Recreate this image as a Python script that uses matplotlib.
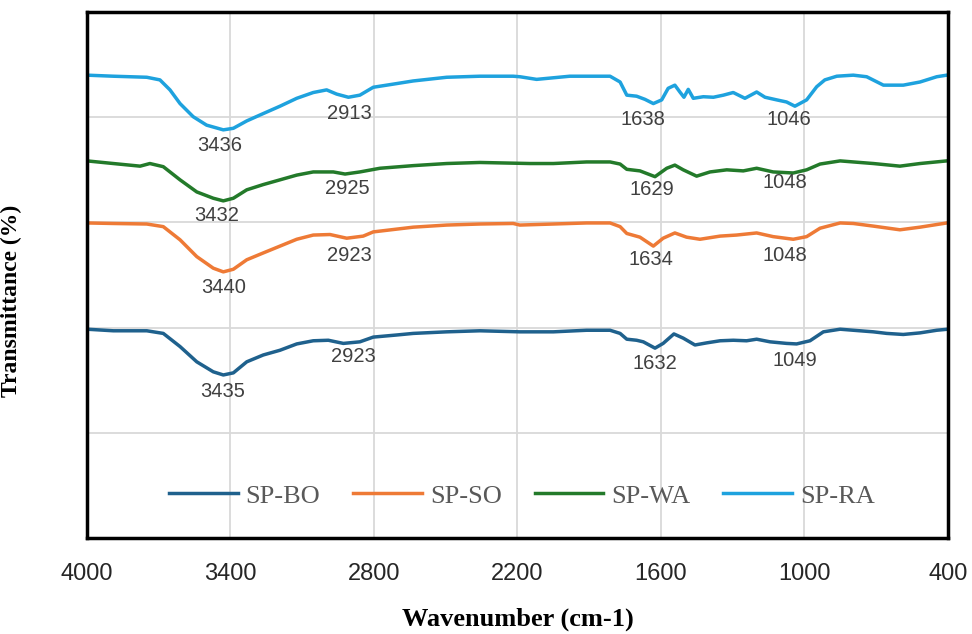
import matplotlib
matplotlib.use("Agg")
import matplotlib.pyplot as plt

# wavenumber (cm-1) and stacked transmittance
bo_wn = [4000, 3890, 3750, 3681, 3611, 3541, 3472, 3430, 3388, 3332, 3263, 3193, 3123, 3054, 2991, 2928,
         2859, 2803, 2705, 2636, 2496, 2357, 2190, 2050, 1911, 1813, 1771, 1743, 1702, 1674, 1625, 1591,
         1546, 1507, 1458, 1409, 1353, 1298, 1242, 1200, 1144, 1075, 1033, 977, 921, 851, 796, 712,
         656, 587, 517, 447, 401]
bo_t = [39.7, 39.4, 39.4, 38.9, 36.4, 33.5, 31.6, 31.0, 31.4, 33.5, 34.8, 35.7, 36.9, 37.5, 37.6, 37.0,
        37.3, 38.2, 38.6, 38.9, 39.2, 39.4, 39.2, 39.2, 39.5, 39.5, 38.9, 37.8, 37.6, 37.3, 36.1, 37.0,
        38.8, 38.0, 36.7, 37.1, 37.5, 37.6, 37.5, 37.8, 37.3, 37.0, 36.9, 37.5, 39.2, 39.7, 39.5, 39.2,
        38.9, 38.7, 39.0, 39.5, 39.7]

so_wn = [4000, 3890, 3750, 3681, 3611, 3541, 3472, 3430, 3388, 3332, 3263, 3193, 3123, 3054, 2984, 2914,
         2845, 2803, 2636, 2496, 2357, 2218, 2190, 2050, 1911, 1813, 1771, 1743, 1688, 1632, 1591, 1542,
         1493, 1437, 1353, 1284, 1200, 1131, 1047, 991, 935, 851, 796, 712, 601, 517, 405]
so_t = [59.9, 59.8, 59.7, 59.2, 56.7, 53.5, 51.3, 50.6, 51.1, 52.9, 54.2, 55.5, 56.8, 57.6, 57.7, 57.0,
        57.4, 58.2, 59.1, 59.5, 59.7, 59.8, 59.5, 59.7, 59.9, 59.9, 59.2, 57.9, 57.2, 55.5, 57.0, 58.0,
        57.2, 56.8, 57.4, 57.6, 58.0, 57.3, 56.8, 57.3, 58.9, 59.9, 59.8, 59.3, 58.6, 59.1, 59.9]

wa_wn = [4000, 3890, 3778, 3737, 3681, 3611, 3541, 3472, 3430, 3388, 3332, 3263, 3193, 3123, 3054, 2970,
         2921, 2859, 2775, 2636, 2496, 2357, 2148, 2050, 1911, 1813, 1771, 1743, 1688, 1625, 1576, 1542,
         1507, 1451, 1395, 1325, 1256, 1200, 1131, 1047, 991, 935, 851, 796, 712, 601, 517, 405]
wa_t = [71.7, 71.2, 70.7, 71.2, 70.6, 68.1, 65.8, 64.6, 64.1, 64.6, 66.2, 67.2, 68.1, 69.0, 69.6, 69.6,
        69.2, 69.6, 70.3, 70.8, 71.2, 71.4, 71.2, 71.2, 71.5, 71.5, 71.1, 70.1, 69.8, 68.7, 70.3, 70.9,
        70.0, 68.8, 69.6, 70.0, 69.8, 70.3, 69.6, 69.4, 70.0, 71.1, 71.7, 71.5, 71.2, 70.7, 71.2, 71.7]

ra_wn = [4000, 3890, 3750, 3695, 3653, 3611, 3556, 3500, 3430, 3388, 3332, 3263, 3193, 3123, 3054, 2998,
         2956, 2907, 2859, 2803, 2705, 2636, 2496, 2357, 2218, 2190, 2120, 1981, 1813, 1771, 1743, 1702,
         1667, 1632, 1597, 1570, 1542, 1521, 1504, 1486, 1465, 1423, 1381, 1339, 1298, 1249, 1200, 1165,
         1116, 1075, 1040, 991, 949, 915, 865, 796, 740, 670, 587, 517, 447, 405]
ra_t = [88.0, 87.8, 87.6, 87.1, 85.2, 82.6, 80.1, 78.5, 77.6, 77.9, 79.3, 80.7, 82.1, 83.6, 84.7, 85.2,
        84.4, 83.8, 84.2, 85.7, 86.4, 86.9, 87.6, 87.8, 87.8, 87.7, 87.2, 87.8, 87.8, 86.7, 84.2, 84.0,
        83.4, 82.6, 83.3, 85.5, 86.1, 84.8, 83.8, 85.3, 83.6, 83.9, 83.8, 84.2, 84.7, 83.6, 84.8, 83.8,
        83.3, 82.9, 82.1, 83.3, 85.8, 87.1, 87.8, 88.0, 87.7, 86.1, 86.1, 86.7, 87.7, 88.0]

# peak labels: text, wavenumber, level
peak_labels = [("3436", 3444, 74.7), ("2913", 2905, 80.8), ("1638", 1675, 79.5), ("1046", 1065, 79.5),
               ("3432", 3456, 61.4), ("2925", 2913, 66.5), ("1629", 1638, 66.2), ("1048", 1082, 67.5),
               ("3440", 3427, 47.7), ("2923", 2905, 53.8), ("1634", 1642, 52.9), ("1048", 1082, 53.8),
               ("3435", 3431, 27.9), ("2923", 2888, 34.5), ("1632", 1625, 33.1), ("1049", 1040, 33.7)]

x_ticks = [4000, 3400, 2800, 2200, 1600, 1000, 400]

fig = plt.figure(figsize=(9.72, 6.34), dpi=100)
ax = fig.add_axes([0.0895, 0.1514, 0.8858, 0.8296])

ax.plot(bo_wn, bo_t, color="#1F618D", lw=2.5, label="SP-BO")
ax.plot(so_wn, so_t, color="#EE7A36", lw=2.5, label="SP-SO")
ax.plot(wa_wn, wa_t, color="#237A2A", lw=2.5, label="SP-WA")
ax.plot(ra_wn, ra_t, color="#1EA2DE", lw=2.5, label="SP-RA")

for txt, wn, lev in peak_labels:
    ax.text(wn, lev, txt, ha="center", va="center", fontsize=14.5,
            family="Liberation Sans", color="#404040")

ax.set_xlim(4000, 400)
ax.set_ylim(0, 100)
ax.set_xticks(x_ticks)
ax.set_yticks([20, 40, 60, 80])
ax.set_yticklabels([])
ax.grid(True, color="#d9d9d9", lw=1.3)
ax.set_axisbelow(True)
ax.tick_params(length=0)
ax.tick_params(axis="x", pad=18, labelsize=17, labelcolor="#262626")
for lab in ax.get_xticklabels():
    lab.set_family("Liberation Sans")
for s in ax.spines.values():
    s.set_linewidth(2.5)
    s.set_color("black")

ax.set_xlabel("Wavenumber (cm-1)", family="Liberation Serif", fontweight="bold", fontsize=19)
ax.xaxis.set_label_coords(0.5, -0.132)
ax.set_ylabel("Transmittance (%)", family="Liberation Serif", fontweight="bold", fontsize=17)
ax.yaxis.set_label_coords(-0.075, 0.45)

leg = ax.legend(loc="center", bbox_to_anchor=(0.505, 0.08), ncol=4, frameon=False,
                prop={"family": "Liberation Serif", "size": 19},
                handlelength=2.6, handletextpad=0.3, columnspacing=1.25)
for t in leg.get_texts():
    t.set_color("#595959")

fig.savefig("out.png", dpi=100)
